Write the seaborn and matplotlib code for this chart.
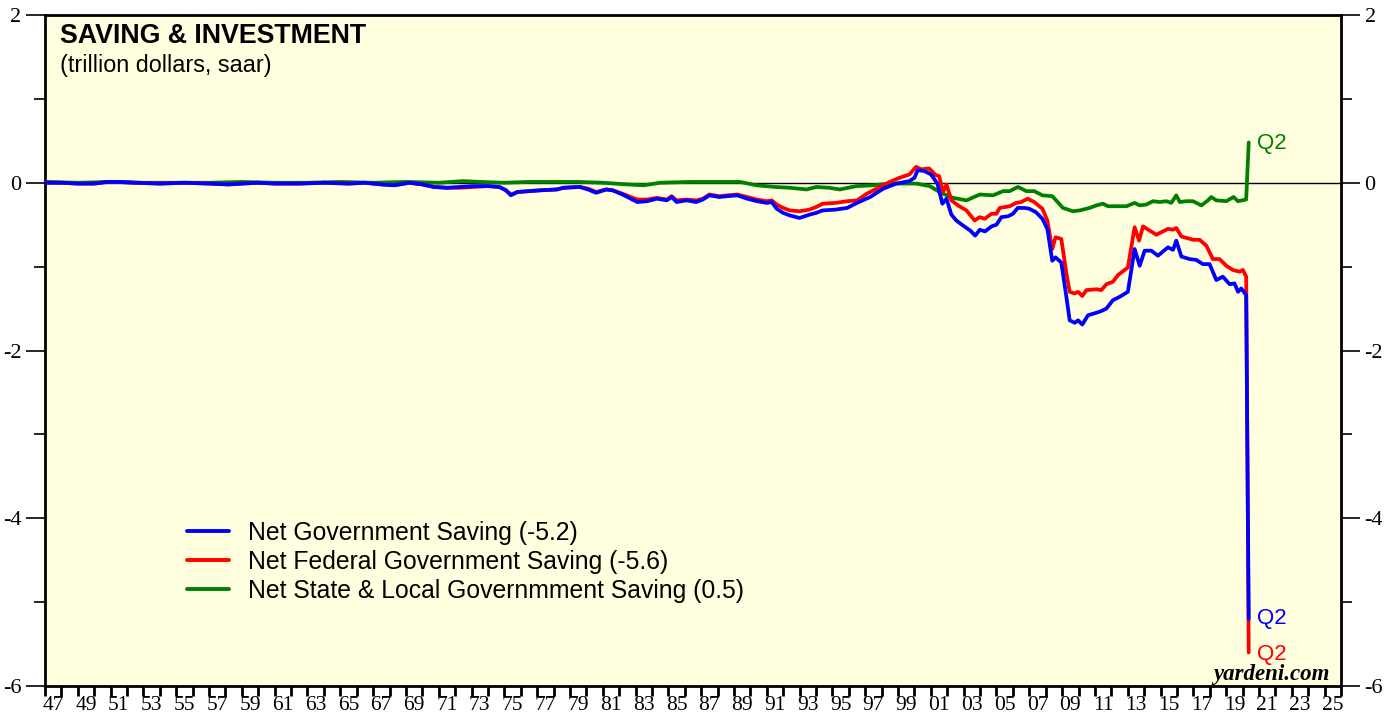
import matplotlib
matplotlib.use("Agg")
import matplotlib.pyplot as plt
import seaborn as sns
import pandas as pd
from matplotlib.lines import Line2D

# ---------------- data (trillion dollars, saar) ----------------
TOTAL_YEARS = [1947.1, 1948.0, 1949.0, 1950.0, 1950.8, 1951.5, 1952.5, 1954.0, 1955.5, 1957.0,
               1958.2, 1959.0, 1960.0, 1961.0, 1962.5, 1964.0, 1965.5, 1966.5, 1967.5, 1968.3,
               1969.2, 1970.0, 1970.7, 1971.5, 1972.3, 1973.1, 1974.0, 1974.7, 1975.1, 1975.4,
               1975.8, 1976.5, 1977.2, 1978.2, 1978.6, 1979.6, 1980.1, 1980.6, 1981.2, 1981.6,
               1982.2, 1982.7, 1983.1, 1983.7, 1984.3, 1984.9, 1985.2, 1985.5, 1986.1, 1986.7,
               1987.1, 1987.5, 1988.1, 1988.6, 1989.2, 1989.8, 1990.4, 1991.0, 1991.3, 1991.6,
               1992.0, 1992.4, 1993.0, 1993.6, 1994.0, 1994.4, 1995.2, 1995.9, 1996.5, 1997.3,
               1998.1, 1998.9, 1999.7, 2000.0, 2000.2, 2000.6, 2001.0, 2001.4, 2001.7, 2001.95,
               2002.25, 2002.55, 2002.96, 2003.4, 2003.7, 2003.98, 2004.3, 2004.7, 2005.0, 2005.3,
               2005.7, 2006.0, 2006.3, 2006.7, 2007.0, 2007.4, 2007.8, 2008.1, 2008.4, 2008.6,
               2008.95, 2009.26, 2009.46, 2009.77, 2009.97, 2010.23, 2010.58, 2011.09, 2011.39, 2011.7,
               2012.1, 2012.51, 2013.01, 2013.42, 2013.73, 2014.03, 2014.44, 2014.84, 2015.45, 2015.76,
               2015.96, 2016.27, 2016.77, 2017.18, 2017.58, 2017.99, 2018.4, 2018.8, 2019.21, 2019.51,
               2019.72, 2019.92, 2020.22, 2020.375]
TOTAL_VALS = [0.00, 0.00, -0.01, -0.01, 0.01, 0.01, 0.00, -0.01, 0.00, -0.01,
              -0.02, -0.01, 0.00, -0.01, -0.01, 0.00, -0.01, 0.00, -0.02, -0.03,
              0.00, -0.02, -0.05, -0.06, -0.05, -0.04, -0.04, -0.05, -0.09, -0.15,
              -0.11, -0.10, -0.09, -0.08, -0.06, -0.05, -0.08, -0.12, -0.08, -0.09,
              -0.14, -0.19, -0.23, -0.22, -0.19, -0.21, -0.17, -0.23, -0.21, -0.23,
              -0.20, -0.15, -0.17, -0.16, -0.15, -0.19, -0.22, -0.24, -0.23, -0.31,
              -0.36, -0.39, -0.42, -0.38, -0.36, -0.33, -0.32, -0.30, -0.24, -0.17,
              -0.07, -0.01, 0.02, 0.06, 0.15, 0.14, 0.10, -0.01, -0.25, -0.19,
              -0.38, -0.45, -0.51, -0.57, -0.63, -0.56, -0.58, -0.52, -0.50, -0.41,
              -0.40, -0.37, -0.30, -0.30, -0.31, -0.35, -0.43, -0.55, -0.93, -0.89,
              -0.95, -1.36, -1.64, -1.67, -1.64, -1.69, -1.58, -1.55, -1.53, -1.50,
              -1.40, -1.36, -1.30, -0.79, -0.99, -0.81, -0.81, -0.87, -0.77, -0.80,
              -0.69, -0.88, -0.91, -0.92, -0.97, -0.97, -1.16, -1.12, -1.21, -1.20,
              -1.30, -1.26, -1.34, -5.20]

FED_YEARS = [1947.1, 1948.0, 1949.0, 1950.0, 1950.8, 1951.5, 1952.5, 1954.0, 1955.5, 1957.0,
             1958.2, 1959.0, 1960.0, 1961.0, 1962.5, 1964.0, 1965.5, 1966.5, 1967.5, 1968.3,
             1969.2, 1970.0, 1970.7, 1971.5, 1972.3, 1973.1, 1974.0, 1974.7, 1975.1, 1975.4,
             1975.8, 1976.5, 1977.2, 1978.2, 1978.6, 1979.6, 1980.1, 1980.6, 1981.2, 1981.6,
             1982.2, 1982.7, 1983.1, 1983.7, 1984.3, 1984.9, 1985.2, 1985.5, 1986.1, 1986.7,
             1987.1, 1987.5, 1988.1, 1988.6, 1989.2, 1989.8, 1990.4, 1991.0, 1991.3, 1991.6,
             1992.0, 1992.4, 1993.0, 1993.6, 1994.0, 1994.4, 1995.2, 1995.9, 1996.5, 1997.1,
             1997.8, 1998.5, 1999.1, 1999.7, 2000.1, 2000.4, 2000.9, 2001.3, 2001.5, 2001.74,
             2001.95, 2002.25, 2002.65, 2003.17, 2003.67, 2003.98, 2004.28, 2004.69, 2004.99, 2005.2,
             2005.8, 2006.2, 2006.5, 2006.9, 2007.3, 2007.8, 2008.1, 2008.4, 2008.6, 2008.95,
             2009.26, 2009.46, 2009.77, 2009.97, 2010.23, 2010.48, 2011.09, 2011.39, 2011.7, 2012.1,
             2012.41, 2013.01, 2013.42, 2013.69, 2013.93, 2014.34, 2014.74, 2015.45, 2015.76, 2015.96,
             2016.27, 2016.98, 2017.38, 2017.79, 2018.19, 2018.6, 2019.01, 2019.41, 2019.82, 2020.02,
             2020.22, 2020.375]
FED_VALS = [0.00, 0.00, -0.01, -0.01, 0.01, 0.01, 0.00, -0.01, 0.00, -0.01,
            -0.02, -0.01, 0.00, -0.01, -0.01, 0.00, -0.01, 0.00, -0.02, -0.03,
            0.00, -0.02, -0.05, -0.06, -0.06, -0.05, -0.04, -0.05, -0.09, -0.14,
            -0.11, -0.10, -0.09, -0.08, -0.06, -0.05, -0.07, -0.11, -0.08, -0.09,
            -0.13, -0.17, -0.20, -0.20, -0.18, -0.20, -0.16, -0.21, -0.20, -0.21,
            -0.19, -0.14, -0.16, -0.15, -0.14, -0.17, -0.20, -0.22, -0.21, -0.26,
            -0.30, -0.33, -0.34, -0.32, -0.29, -0.25, -0.24, -0.22, -0.21, -0.13,
            -0.06, 0.01, 0.06, 0.10, 0.19, 0.16, 0.17, 0.09, 0.08, -0.11,
            -0.02, -0.21, -0.27, -0.33, -0.45, -0.41, -0.43, -0.37, -0.37, -0.30,
            -0.28, -0.24, -0.23, -0.19, -0.23, -0.31, -0.45, -0.79, -0.65, -0.67,
            -1.08, -1.30, -1.32, -1.30, -1.35, -1.28, -1.27, -1.28, -1.21, -1.18,
            -1.10, -1.01, -0.53, -0.69, -0.52, -0.57, -0.62, -0.55, -0.56, -0.54,
            -0.64, -0.68, -0.68, -0.75, -0.91, -0.91, -0.99, -1.04, -1.06, -1.04,
            -1.12, -5.60]

SL_YEARS = [1947.1, 1949.0, 1951.0, 1953.0, 1955.0, 1957.0, 1959.0, 1961.0, 1963.0, 1965.0,
            1967.0, 1969.0, 1971.0, 1972.5, 1973.5, 1975.0, 1976.5, 1978.0, 1979.5, 1981.0,
            1982.5, 1983.5, 1984.5, 1986.3, 1988.0, 1989.35, 1990.37, 1991.5, 1992.4, 1993.42,
            1994.02, 1994.8, 1995.45, 1996.46, 1997.5, 1998.49, 1999.3, 2000.12, 2000.93, 2001.44,
            2001.74, 2002.35, 2003.17, 2003.98, 2004.79, 2005.4, 2005.8, 2006.31, 2006.82, 2007.3,
            2007.8, 2008.4, 2009.05, 2009.66, 2010.07, 2010.68, 2011.09, 2011.49, 2011.8, 2012.3,
            2012.92, 2013.42, 2013.73, 2014.13, 2014.54, 2014.95, 2015.35, 2015.66, 2015.96, 2016.17,
            2016.57, 2016.98, 2017.49, 2017.89, 2018.09, 2018.4, 2019.01, 2019.45, 2019.72, 2020.22,
            2020.375]
SL_VALS = [0.01, 0.00, 0.01, 0.00, 0.00, 0.00, 0.01, 0.00, 0.00, 0.01,
           0.00, 0.01, 0.00, 0.02, 0.01, 0.00, 0.01, 0.01, 0.01, 0.00,
           -0.02, -0.03, 0.00, 0.01, 0.01, 0.01, -0.03, -0.05, -0.06, -0.08,
           -0.05, -0.06, -0.08, -0.04, -0.03, -0.01, -0.01, -0.01, -0.04, -0.10,
           -0.13, -0.18, -0.21, -0.14, -0.15, -0.10, -0.10, -0.05, -0.10, -0.10,
           -0.15, -0.16, -0.30, -0.34, -0.33, -0.30, -0.27, -0.25, -0.28, -0.28,
           -0.28, -0.24, -0.27, -0.26, -0.22, -0.23, -0.22, -0.24, -0.15, -0.23,
           -0.22, -0.22, -0.27, -0.21, -0.17, -0.21, -0.22, -0.17, -0.22, -0.20,
           0.48]

SERIES_NAMES = ["Net Government Saving (-5.2)",
                "Net Federal Government Saving (-5.6)",
                "Net State & Local Governmment Saving (0.5)"]
SERIES_COLORS = ["#0000ff", "#ff0000", "#008000"]
YEAR_LABELS = [f"{y % 100:02d}" for y in range(1947, 2026, 2)]
Y_LABELS = ["-6", "-4", "-2", "0", "2"]

# ---------------- figure ----------------
sns.set_style("ticks")
plt.rcParams["font.family"] = ["Liberation Sans", "DejaVu Sans"]
plt.rcParams["text.color"] = "black"
plt.rcParams["xtick.color"] = "black"
plt.rcParams["ytick.color"] = "black"
plt.rcParams["xtick.labelcolor"] = "black"
plt.rcParams["ytick.labelcolor"] = "black"

W, H = 1395, 717
fig = plt.figure(figsize=(W / 100, H / 100), dpi=100)
fig.patch.set_facecolor("white")
L, R, T, B = 45, 1341, 15, 686
ax = fig.add_axes([L / W, 1 - B / H, (R - L) / W, (B - T) / H])
ax.set_facecolor("#ffffe0")

ax.axhline(0, color="black", lw=1.0, zorder=1)

lw = 2.7
sns.lineplot(x=SL_YEARS, y=SL_VALS, color=SERIES_COLORS[2], lw=lw, ax=ax,
             sort=False, estimator=None, zorder=3)
sns.lineplot(x=FED_YEARS, y=FED_VALS, color=SERIES_COLORS[1], lw=lw, ax=ax,
             sort=False, estimator=None, zorder=4)
sns.lineplot(x=TOTAL_YEARS, y=TOTAL_VALS, color=SERIES_COLORS[0], lw=lw, ax=ax,
             sort=False, estimator=None, zorder=5)

ax.set_xlim(1947, 2026)
ax.set_ylim(-6, 2)
ax.set_xlabel("")
ax.set_ylabel("")

for s in ax.spines.values():
    s.set_visible(True)
    s.set_linewidth(2.0)
    s.set_color("black")

# x ticks: minor ticks every year, labels centered in the year
ax.set_xticks([y + 0.5 for y in range(1947, 2026, 2)])
ax.set_xticklabels(YEAR_LABELS)
ax.set_xticks(list(range(1947, 2027)), minor=True)
ax.tick_params(axis="x", which="major", length=0, pad=7,
               labelsize=15.5, labelfontfamily="Liberation Serif")
ax.tick_params(axis="x", which="minor", length=7, width=2, direction="out", color="black")

# y ticks both sides
ax.set_yticks([-6, -4, -2, 0, 2])
ax.set_yticklabels(Y_LABELS)
ax.set_yticks([-5, -3, -1, 1], minor=True)
ax.tick_params(axis="y", which="major", length=14, width=1.2, direction="out",
               left=True, right=True, labelleft=True, labelright=True,
               labelsize=16, labelfontfamily="Liberation Serif", pad=3)
ax.tick_params(axis="y", which="minor", length=8, width=1.2, direction="out",
               left=True, right=True)

# titles
ax.text((60 - L) / (R - L), (B - 43) / (B - T), "SAVING & INVESTMENT",
        transform=ax.transAxes, fontsize=19.3, fontweight="bold", va="baseline", ha="left")
ax.text((60 - L) / (R - L), (B - 72) / (B - T), "(trillion dollars, saar)",
        transform=ax.transAxes, fontsize=16.8, va="baseline", ha="left")

# end labels
ax.text(2020.85, 0.47, "Q2", color=SERIES_COLORS[2], fontsize=16, va="center", ha="left")
ax.text(2020.85, -5.19, "Q2", color=SERIES_COLORS[0], fontsize=16, va="center", ha="left")
ax.text(2020.85, -5.63, "Q2", color=SERIES_COLORS[1], fontsize=16, va="center", ha="left")

ax.text(2025.3, -5.93, "yardeni.com", fontsize=16.5, fontweight="bold", fontstyle="italic",
        family="Liberation Serif", ha="right", va="baseline")

# legend
handles = [Line2D([0], [0], color=c, lw=2.8) for c in SERIES_COLORS]
leg = ax.legend(handles, SERIES_NAMES, loc="upper left",
                bbox_to_anchor=((187 - L) / (R - L), (B - 521) / (B - T)),
                frameon=False, fontsize=17.8, handlelength=1.7, handletextpad=0.75,
                labelspacing=0.2, borderaxespad=0, borderpad=0)
for t in leg.get_texts():
    t.set_color("black")

fig.savefig("out.png", dpi=100)
